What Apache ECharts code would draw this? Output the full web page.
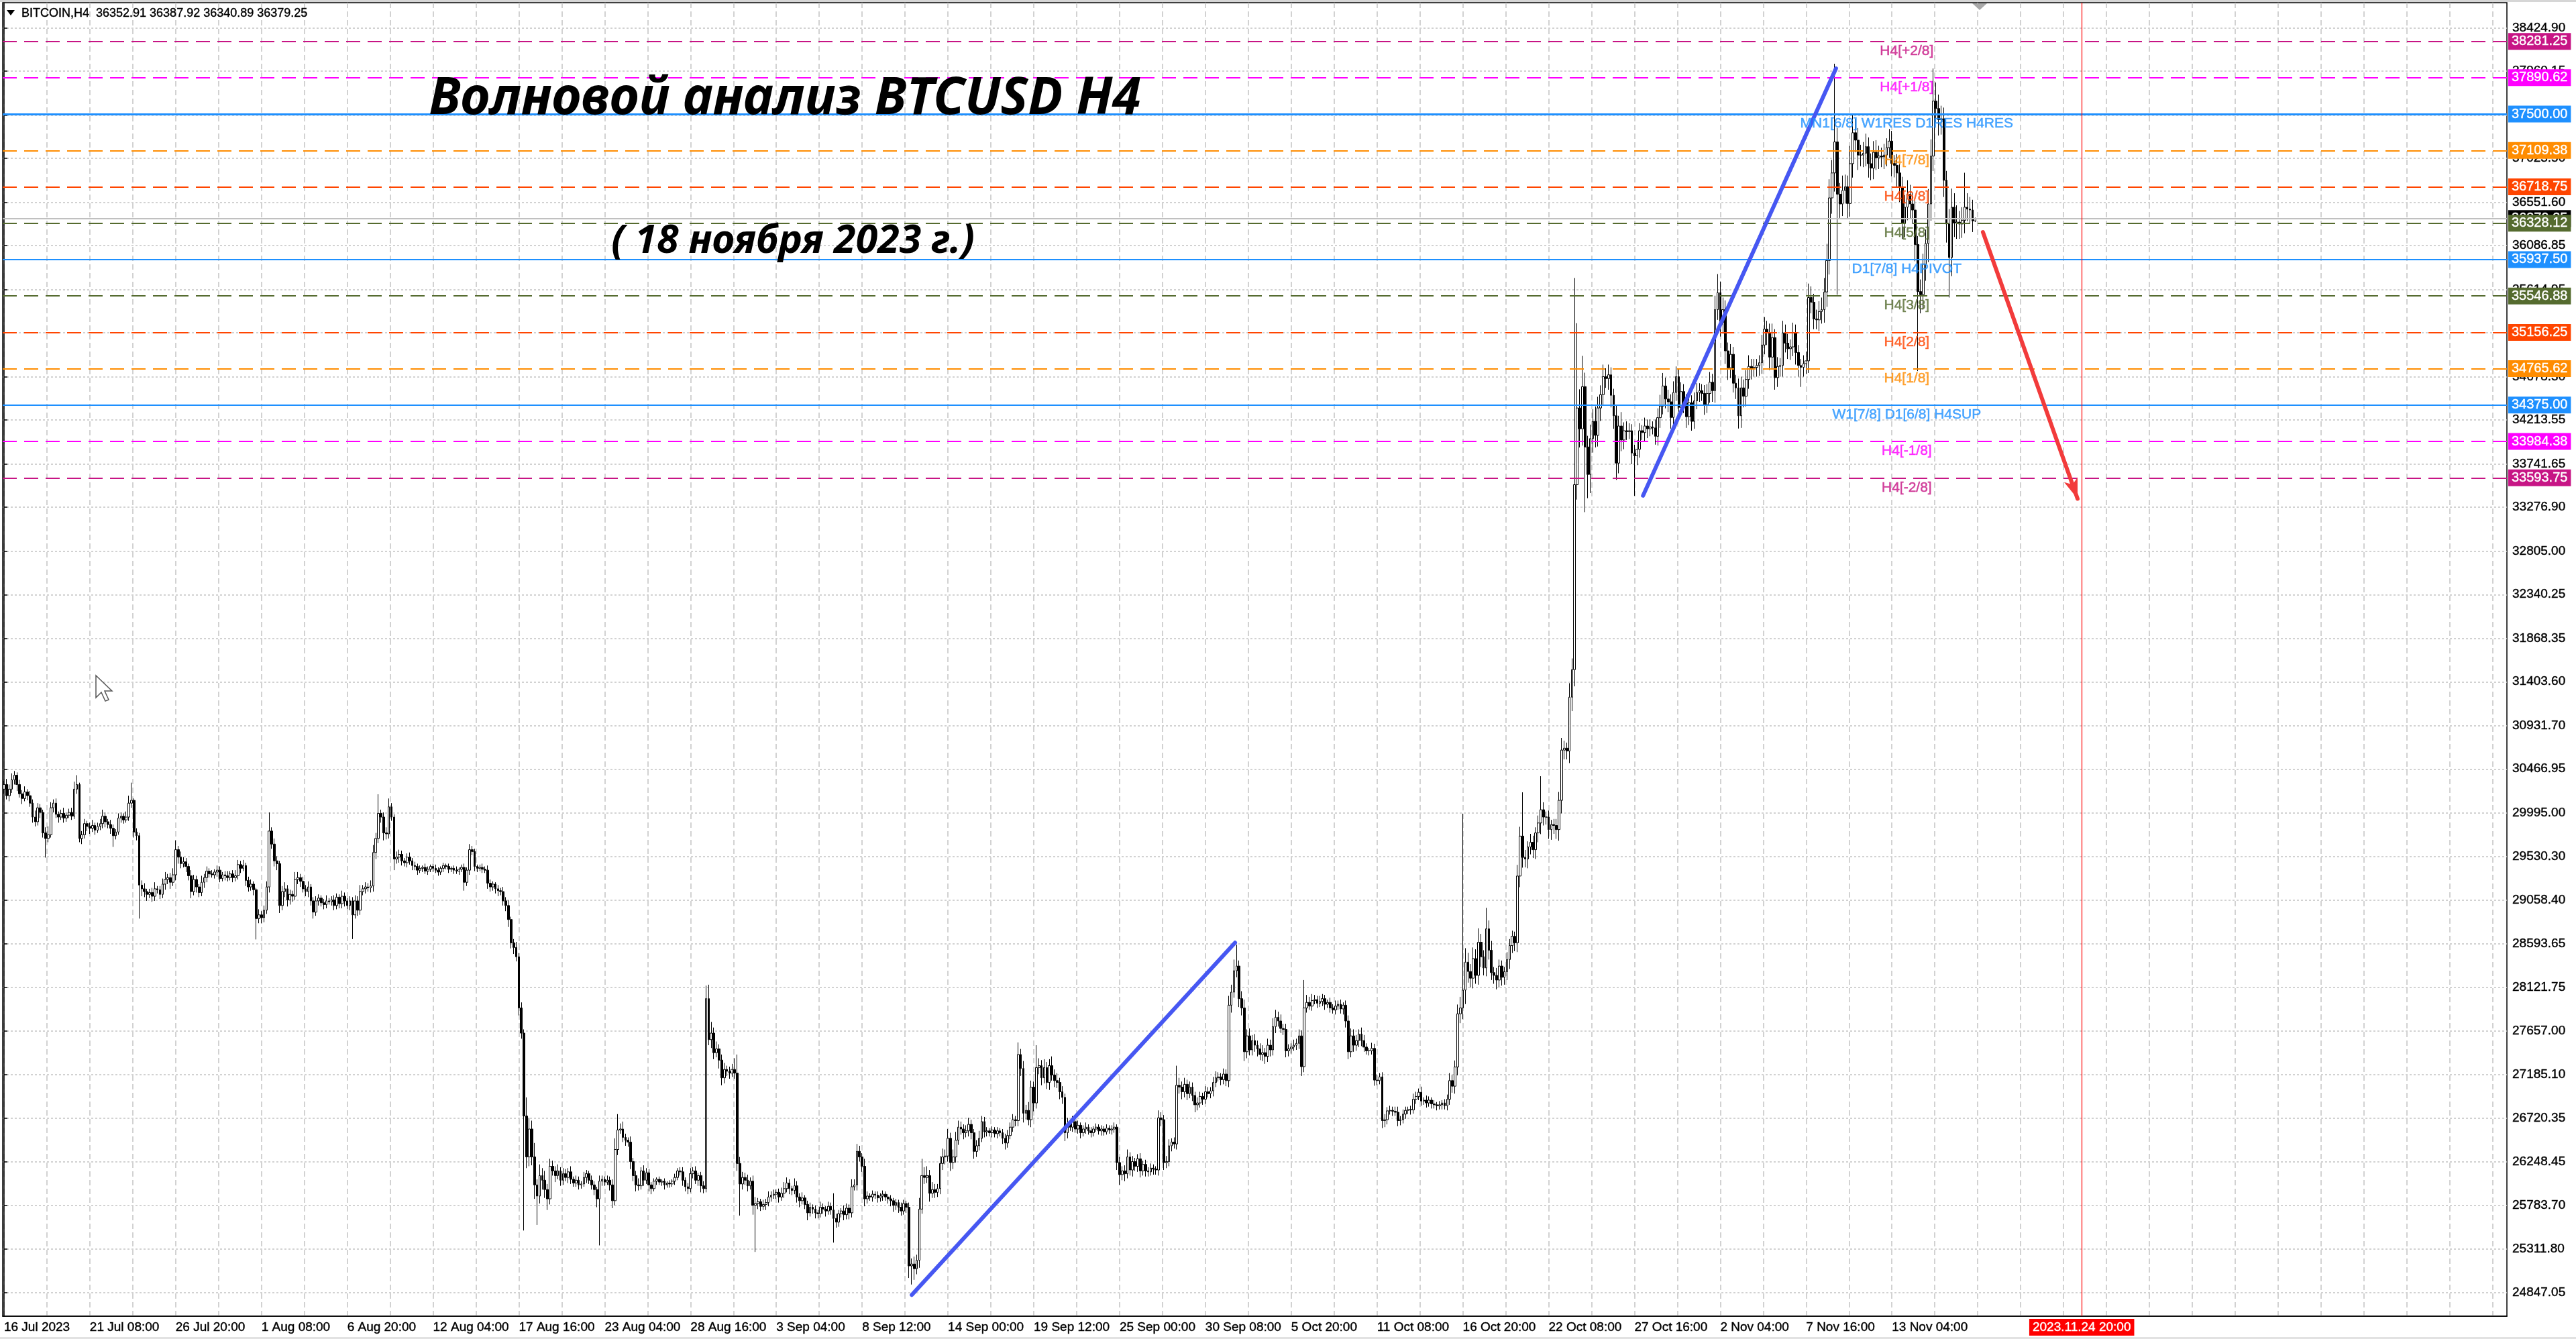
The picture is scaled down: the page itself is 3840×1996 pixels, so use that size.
<!DOCTYPE html>
<html>
<head>
<meta charset="utf-8">
<title>Волновой анализ BTCUSD H4</title>
<script src="https://cdn.jsdelivr.net/npm/echarts@6/dist/echarts.min.js"></script>
<style>
    html, body { margin: 0; padding: 0; background: #fff; }
    #chart { width: 3840px; height: 1996px; }
</style>
</head>
<body>
<div id="chart"></div>
<script>
// H4 closes, 16 Jul 2023 -> 18 Nov 2023 (open of each bar = previous close)
var firstOpen = 30250;
var closes = [
    30300, 30180, 30250, 30350, 30400, 30300, 30200, 30150, 30220, 30180, // 0
    30100, 29950, 29900, 30050, 30000, 29780, 29720, 29760, 30050, 30100,
    29980, 29950, 29990, 29940, 29970, 30000, 29960, 30250, 30300, 29720,
    29760, 29880, 29850, 29830, 29860, 29810, 29850, 29880, 29960, 29900,
    29870, 29830, 29750, 29790, 29940, 29960, 29920, 29950, 30100, 30130,
    29790, 29750, 29220, 29180, 29150, 29120, 29140, 29100, 29180, 29170, // 50
    29120, 29230, 29280, 29300, 29250, 29330, 29600, 29520, 29450, 29470,
    29420, 29320, 29150, 29280, 29200, 29140, 29250, 29300, 29370, 29340,
    29330, 29360, 29380, 29290, 29330, 29320, 29300, 29340, 29300, 29320,
    29440, 29400, 29430, 29270, 29200, 29230, 29170, 28860, 28900, 28870,
    28950, 29200, 29800, 29660, 29480, 29450, 29000, 29150, 29180, 29060, // 100
    29120, 29100, 29280, 29300, 29260, 29180, 29150, 29200, 29050, 28930,
    29050, 29080, 29030, 29010, 29050, 29040, 29060, 29000, 29090, 29020,
    29100, 29050, 29000, 29050, 28900, 29050, 28950, 29150, 29180, 29200,
    29190, 29210, 29570, 29720, 29990, 29950, 29780, 29770, 30060, 29950,
    29500, 29520, 29550, 29480, 29460, 29520, 29480, 29430, 29420, 29380, // 150
    29400, 29410, 29370, 29390, 29420, 29400, 29380, 29360, 29400, 29430,
    29420, 29390, 29400, 29380, 29370, 29390, 29410, 29250, 29380, 29600,
    29580, 29420, 29400, 29410, 29390, 29380, 29240, 29200, 29230, 29180,
    29160, 29150, 29050, 29000, 28850, 28600, 28550, 28450, 27900, 27630,
    26740, 26300, 26600, 26300, 26000, 25880, 26100, 26050, 25950, 25850, // 200
    26200, 26150, 26100, 26150, 26050, 26120, 26080, 26140, 26060, 26020,
    26050, 26000, 26010, 26080, 26120, 26050, 26000, 25950, 25850, 26040,
    26060, 26030, 26050, 26000, 25830, 26380, 26590, 26600, 26510, 26480,
    26460, 26250, 26100, 26000, 25990, 26150, 26050, 26130, 26000, 25960,
    26040, 26060, 26030, 26040, 26000, 26020, 26010, 26040, 26080, 26150, // 250
    26140, 26050, 25980, 25960, 26120, 26150, 26050, 26100, 25990, 25960,
    28000, 27560, 27630, 27420, 27460, 27340, 27150, 27240, 27220, 27200,
    27240, 27200, 26230, 26010, 26080, 26050, 25990, 26040, 25780, 25800,
    25820, 25770, 25790, 25810, 25870, 25890, 25900, 25920, 25870, 25910,
    25960, 26020, 25960, 25940, 25990, 25870, 25830, 25860, 25790, 25700, // 300
    25760, 25740, 25700, 25690, 25760, 25740, 25720, 25770, 25730, 25640,
    25600, 25690, 25720, 25680, 25750, 25700, 25980, 26000, 26360, 26300,
    26200, 25850, 25880, 25870, 25900, 25890, 25860, 25880, 25900, 25870,
    25850, 25830, 25780, 25810, 25760, 25720, 25800, 25760, 25130, 25150,
    25100, 25190, 25740, 26100, 26080, 26100, 25910, 25950, 25920, 25960, // 350
    26230, 26300, 26310, 26500, 26240, 26300, 26480, 26620, 26600, 26560,
    26580, 26650, 26560, 26360, 26420, 26500, 26680, 26570, 26580, 26560,
    26590, 26550, 26580, 26560, 26500, 26450, 26530, 26620, 26700, 26690,
    27400, 27250, 26770, 26800, 26700, 27050, 26880, 27260, 27280, 27150,
    27260, 27100, 27280, 27180, 27120, 27100, 27000, 26940, 26560, 26650, // 400
    26620, 26680, 26600, 26640, 26560, 26600, 26620, 26580, 26560, 26600,
    26620, 26580, 26600, 26570, 26610, 26590, 26600, 26620, 26240, 26110,
    26150, 26120, 26300, 26160, 26250, 26200, 26280, 26150, 26220, 26150,
    26140, 26180, 26170, 26160, 26720, 26700, 26240, 26250, 26420, 26460,
    26440, 27070, 27050, 27000, 27080, 26980, 27050, 26960, 26860, 26880, // 450
    26950, 26920, 27000, 26980, 27010, 27100, 27150, 27160, 27130, 27190,
    27120, 27930, 28070, 28300, 28350, 28000, 27900, 27430, 27600, 27450,
    27550, 27500, 27460, 27400, 27420, 27380, 27500, 27450, 27700, 27800,
    27760, 27680, 27670, 27440, 27460, 27480, 27500, 27520, 27600, 27270,
    27900, 27960, 27920, 27980, 27990, 27950, 27970, 28000, 27940, 27960, // 500
    27900, 27880, 27920, 27940, 27890, 27930, 27760, 27430, 27600, 27500,
    27550, 27620, 27550, 27480, 27440, 27440, 27466, 27125, 27120, 27160,
    26690, 26700, 26795, 26800, 26790, 26780, 26690, 26700, 26760, 26800,
    26810, 26805, 26920, 26950, 26995, 26900, 26910, 26880, 26910, 26870,
    26860, 26850, 26860, 26880, 26850, 26920, 27120, 27060, 27266, 27837, // 550
    27900, 28092, 28392, 28292, 28220, 28430, 28250, 28606, 28450, 28330,
    28750, 28520, 28280, 28250, 28200, 28350, 28230, 28290, 28420, 28570,
    28670, 28600, 29317, 29746, 29517, 29500, 29630, 29680, 29600, 29780,
    29887, 30029, 29950, 29950, 29816, 29870, 29860, 29816, 30130, 30670,
    30690, 30660, 31238, 31534, 33520, 34344, 34120, 34573, 33925, 33630, // 600
    34015, 34200, 34050, 34344, 34487, 34680, 34660, 34700, 34480, 34260,
    33752, 34150, 34000, 34100, 34090, 34100, 33860, 33830, 33900, 34100,
    34080, 34150, 34120, 34140, 34130, 34040, 34240, 34365, 34580, 34440,
    34410, 34242, 34510, 34680, 34350, 34520, 34400, 34250, 34400, 34200,
    34420, 34510, 34530, 34500, 34380, 34500, 34620, 34530, 35400, 35582, // 650
    35261, 35400, 34957, 34775, 34920, 34610, 34560, 34260, 34560, 34470,
    34650, 34790, 34770, 34780, 34800, 34830, 35020, 35190, 35150, 34890,
    35100, 34670, 34790, 34800, 35150, 35040, 34980, 35000, 35150, 34940,
    34800, 34780, 34820, 34850, 35530, 35480, 35300, 35290, 35380, 35400,
    35590, 35927, 36600, 36868, 37201, 36640, 36535, 36680, 36720, 36540, // 700
    36968, 37300, 37220, 37060, 37060, 37080, 37150, 36968, 36920, 37090,
    37030, 37050, 37040, 37060, 37140, 37210, 36970, 36950, 36868, 36716,
    36330, 36500, 36640, 36535, 36470, 36100, 35594, 35560, 35890, 36110,
    36535, 37049, 37640, 37560, 37440, 37450, 36790, 36320, 35960, 36500,
    36330, 36340, 36320, 36360, 36500, 36480, 36470, 36352.91, 36379.25  // 750
];
// upper shadow above the body, lower shadow below the body
var wickUp = [
    40, 60, 50, 70, 45, 30, 50, 40, 60, 30,
    50, 40, 70, 50, 40, 30, 60, 90, 60, 40,
    50, 30, 40, 60, 30, 40, 50, 80, 100, 20,
    40, 50, 30, 40, 60, 30, 40, 50, 70, 40,
    30, 50, 40, 30, 50, 40, 30, 60, 80, 190,
    20, 40, 30, 50, 60, 30, 40, 50, 70, 30,
    40, 60, 80, 40, 50, 70, 100, 40, 60, 50,
    40, 30, 60, 50, 40, 30, 70, 40, 50, 30,
    40, 30, 50, 40, 30, 40, 50, 30, 40, 60,
    50, 40, 60, 30, 40, 50, 30, 20, 60, 40,
    50, 60, 200, 40, 60, 50, 30, 60, 70, 40,
    50, 40, 80, 60, 40, 50, 40, 60, 30, 40,
    50, 40, 30, 40, 60, 30, 40, 50, 40, 30,
    60, 40, 30, 50, 40, 60, 50, 70, 40, 50,
    40, 60, 80, 60, 205, 40, 50, 60, 90, 40,
    30, 60, 50, 40, 30, 40, 50, 30, 40, 30,
    30, 20, 40, 30, 20, 30, 40, 30, 20, 30,
    20, 30, 20, 30, 40, 20, 30, 40, 30, 60,
    40, 30, 20, 30, 40, 30, 50, 40, 30, 20,
    40, 30, 50, 40, 60, 30, 40, 60, 40, 60,
    40, 200, 120, 90, 150, 60, 120, 80, 100, 60,
    80, 60, 50, 70, 40, 60, 50, 40, 60, 30,
    50, 40, 30, 60, 40, 30, 50, 40, 30, 60,
    40, 30, 50, 40, 60, 120, 170, 60, 80, 40,
    30, 60, 40, 50, 70, 40, 60, 50, 40, 30,
    30, 20, 30, 20, 30, 20, 30, 20, 40, 30,
    40, 50, 30, 40, 60, 40, 50, 30, 40, 50,
    140, 150, 120, 60, 80, 50, 60, 70, 40, 50,
    60, 120, 200, 70, 60, 50, 60, 40, 60, 70,
    40, 30, 50, 40, 60, 40, 50, 30, 40, 60,
    70, 60, 40, 30, 80, 50, 40, 60, 30, 40,
    50, 30, 40, 30, 60, 40, 30, 50, 40, 180,
    50, 40, 30, 60, 50, 40, 80, 60, 80, 60,
    40, 80, 50, 30, 40, 30, 40, 30, 40, 30,
    30, 40, 30, 40, 30, 50, 40, 30, 50, 60,
    80, 60, 120, 180, 90, 100, 60, 80, 60, 50,
    80, 90, 70, 100, 60, 80, 90, 70, 60, 50,
    60, 70, 50, 40, 60, 80, 60, 50, 40, 30,
    40, 30, 40, 30, 40, 50, 60, 50, 60, 40,
    130, 60, 80, 60, 90, 70, 60, 240, 80, 60,
    90, 60, 70, 100, 60, 80, 50, 60, 40, 70,
    50, 60, 40, 50, 30, 40, 50, 30, 40, 30,
    40, 30, 40, 30, 40, 30, 40, 50, 30, 60,
    50, 60, 80, 50, 60, 40, 50, 60, 40, 50,
    40, 50, 40, 30, 80, 60, 50, 60, 70, 40,
    50, 210, 80, 60, 70, 50, 60, 50, 40, 60,
    50, 40, 60, 50, 40, 60, 70, 50, 40, 60,
    50, 100, 80, 120, 230, 60, 80, 90, 70, 80,
    60, 70, 50, 60, 80, 50, 70, 60, 90, 80,
    60, 70, 50, 60, 50, 40, 60, 50, 70, 60,
    300, 80, 60, 70, 50, 40, 60, 50, 40, 30,
    50, 40, 60, 40, 50, 30, 50, 60, 80, 70,
    60, 50, 70, 60, 40, 30, 60, 50, 60, 40,
    50, 60, 40, 50, 40, 50, 60, 40, 50, 40,
    30, 40, 60, 50, 40, 60, 30, 50, 40, 30,
    40, 30, 40, 30, 40, 50, 80, 60, 70, 100,
    120, 1895, 150, 100, 80, 120, 100, 150, 90, 70,
    225, 90, 100, 60, 80, 70, 60, 50, 80, 70,
    60, 50, 120, 100, 470, 80, 60, 90, 70, 60,
    80, 360, 80, 60, 70, 50, 60, 70, 90, 130,
    80, 60, 150, 120, 2220, 910, 200, 330, 150, 120,
    150, 130, 160, 120, 100, 130, 90, 110, 80, 70,
    120, 110, 150, 90, 100, 80, 70, 90, 100, 80,
    60, 90, 70, 80, 60, 90, 100, 120, 140, 90,
    100, 80, 120, 110, 90, 100, 80, 90, 110, 80,
    90, 100, 80, 70, 90, 100, 110, 90, 150, 200,
    120, 130, 100, 90, 110, 80, 90, 100, 120, 90,
    100, 120, 80, 90, 70, 80, 110, 130, 90, 100,
    150, 90, 100, 80, 130, 90, 100, 80, 110, 90,
    80, 70, 90, 100, 150, 120, 90, 100, 110, 130,
    150, 180, 200, 140, 840, 150, 120, 160, 130, 120,
    190, 200, 150, 130, 110, 120, 140, 100, 110, 120,
    130, 110, 90, 120, 100, 130, 110, 90, 120, 100,
    110, 130, 150, 100, 120, 100, 90, 130, 110, 150,
    160, 180, 350, 200, 150, 140, 120, 100, 160, 200,
    150, 180, 120, 140, 370, 150, 130, 110, 8.67
];
var wickDown = [
    50, 40, 60, 40, 50, 70, 40, 60, 30, 50,
    40, 60, 50, 40, 60, 50, 205, 40, 30, 50,
    40, 60, 30, 50, 40, 30, 40, 30, 50, 40,
    60, 40, 50, 60, 40, 50, 30, 40, 50, 60,
    40, 60, 120, 40, 30, 50, 40, 30, 40, 50,
    60, 50, 360, 80, 60, 70, 40, 60, 50, 40,
    50, 40, 60, 50, 70, 40, 60, 70, 50, 40,
    60, 50, 70, 40, 60, 50, 40, 60, 50, 40,
    30, 40, 50, 40, 30, 50, 40, 30, 50, 40,
    40, 50, 30, 60, 50, 40, 60, 224, 50, 60,
    50, 40, 60, 50, 60, 70, 80, 50, 60, 70,
    50, 60, 40, 50, 60, 40, 50, 60, 50, 70,
    40, 50, 40, 50, 40, 30, 40, 50, 40, 50,
    50, 60, 40, 50, 260, 40, 60, 50, 40, 50,
    40, 50, 60, 70, 50, 60, 80, 60, 50, 40,
    120, 50, 60, 50, 40, 50, 40, 50, 40, 50,
    30, 40, 30, 40, 30, 40, 30, 40, 30, 40,
    30, 40, 30, 40, 30, 40, 30, 90, 40, 50,
    40, 50, 40, 30, 40, 30, 60, 50, 40, 50,
    60, 40, 50, 60, 80, 60, 70, 50, 80, 60,
    1230, 120, 100, 90, 150, 310, 80, 100, 90, 120,
    60, 50, 70, 40, 60, 50, 40, 60, 50, 40,
    40, 50, 40, 30, 60, 40, 50, 60, 90, 500,
    50, 40, 30, 60, 80, 50, 60, 40, 50, 60,
    50, 80, 60, 70, 50, 40, 60, 40, 70, 60,
    30, 40, 30, 40, 50, 30, 40, 30, 40, 30,
    40, 60, 50, 60, 40, 50, 40, 60, 70, 50,
    40, 60, 90, 70, 50, 90, 80, 60, 50, 60,
    40, 60, 80, 340, 60, 50, 60, 40, 100, 500,
    60, 50, 40, 60, 40, 50, 40, 50, 60, 40,
    50, 40, 60, 50, 40, 60, 70, 40, 50, 80,
    40, 50, 60, 50, 40, 50, 60, 40, 50, 260,
    60, 50, 40, 60, 50, 70, 50, 40, 60, 50,
    60, 80, 50, 40, 50, 40, 50, 40, 50, 40,
    50, 60, 70, 50, 60, 50, 40, 60, 130, 200,
    120, 60, 80, 50, 70, 60, 90, 50, 60, 50,
    60, 70, 80, 60, 90, 70, 60, 50, 60, 70,
    50, 60, 70, 80, 60, 50, 40, 60, 50, 40,
    50, 40, 50, 40, 60, 70, 50, 40, 50, 60,
    60, 80, 100, 70, 60, 80, 90, 60, 70, 80,
    60, 70, 80, 60, 70, 60, 80, 70, 90, 60,
    40, 50, 40, 50, 60, 40, 50, 40, 50, 40,
    30, 40, 50, 40, 30, 40, 50, 40, 80, 110,
    60, 80, 50, 60, 70, 50, 60, 70, 50, 60,
    50, 40, 60, 50, 60, 70, 80, 60, 50, 60,
    50, 60, 70, 80, 60, 70, 50, 60, 80, 60,
    50, 60, 50, 40, 50, 60, 50, 40, 60, 50,
    60, 70, 80, 60, 70, 90, 80, 100, 70, 60,
    60, 70, 80, 60, 70, 80, 60, 70, 60, 70,
    60, 50, 60, 70, 60, 50, 40, 50, 60, 100,
    60, 50, 40, 50, 40, 50, 40, 50, 60, 40,
    50, 40, 50, 40, 50, 60, 70, 80, 60, 70,
    60, 70, 60, 50, 40, 50, 40, 60, 50, 40,
    80, 70, 50, 40, 50, 40, 60, 50, 40, 50,
    40, 50, 40, 50, 40, 50, 40, 50, 40, 50,
    40, 50, 40, 50, 40, 50, 60, 70, 80, 90,
    100, 120, 150, 120, 100, 110, 90, 100, 110, 80,
    90, 100, 80, 90, 100, 80, 90, 80, 90, 100,
    80, 90, 100, 120, 110, 90, 100, 80, 90, 100,
    100, 120, 90, 80, 100, 110, 90, 100, 120, 140,
    100, 90, 130, 150, 180, 160, 200, 180, 700, 255,
    200, 150, 130, 120, 140, 110, 100, 120, 130, 140,
    180, 110, 120, 100, 90, 80, 120, 430, 100, 90,
    80, 90, 100, 80, 70, 90, 100, 110, 90, 100,
    110, 120, 100, 90, 130, 100, 110, 120, 90, 100,
    80, 90, 100, 80, 110, 90, 100, 120, 130, 110,
    150, 120, 140, 130, 110, 100, 120, 137, 130, 120,
    110, 100, 120, 90, 100, 110, 120, 100, 130, 140,
    120, 130, 100, 110, 120, 100, 110, 120, 100, 130,
    120, 210, 100, 110, 130, 120, 110, 100, 120, 130,
    140, 160, 150, 170, 200, 1080, 150, 130, 140, 160,
    140, 150, 130, 160, 120, 130, 140, 150, 130, 120,
    130, 120, 110, 130, 120, 110, 140, 130, 150, 160,
    170, 150, 140, 160, 150, 180, 854, 200, 160, 180,
    200, 180, 160, 150, 170, 160, 180, 200, 430, 200,
    150, 170, 160, 150, 140, 130, 150, 120, 12.02
];

// time axis labels, one every 33 H4 bars
var timeLabels = [
    '16 Jul 2023', '21 Jul 08:00', '26 Jul 20:00', '1 Aug 08:00', '6 Aug 20:00',
    '12 Aug 04:00', '17 Aug 16:00', '23 Aug 04:00', '28 Aug 16:00', '3 Sep 04:00',
    '8 Sep 12:00', '14 Sep 00:00', '19 Sep 12:00', '25 Sep 00:00', '30 Sep 08:00',
    '5 Oct 20:00', '11 Oct 08:00', '16 Oct 20:00', '22 Oct 08:00', '27 Oct 16:00',
    '2 Nov 04:00', '7 Nov 16:00', '13 Nov 04:00'
];
var futureLabel = '2023.11.24 20:00';
var futureIndex = 799;

// price scale ticks
var yTicks = [
    38424.90, 37960.15, 37488.25, 37023.50, 36551.60, 36086.85, 35614.95, 35150.20,
    34678.30, 34213.55, 33741.65, 33276.90, 32805.00, 32340.25, 31868.35, 31403.60,
    30931.70, 30466.95, 29995.00, 29530.30, 29058.40, 28593.65, 28121.75, 27657.00,
    27185.10, 26720.35, 26248.45, 25783.70, 25311.80, 24847.05
];

// Murrey math levels
var levelValues = [38281.25, 37890.62, 37500.00, 37109.38, 36718.75, 36328.12, 35937.50,
    35546.88, 35156.25, 34765.62, 34375.00, 33984.38, 33593.75];
var levelNames = ['H4[+2/8]', 'H4[+1/8]', 'MN1[6/8] W1RES D1RES H4RES', 'H4[7/8]', 'H4[6/8]',
    'H4[5/8]', 'D1[7/8] H4PIVOT', 'H4[3/8]', 'H4[2/8]', 'H4[1/8]', 'W1[7/8] D1[6/8] H4SUP',
    'H4[-1/8]', 'H4[-2/8]'];
var levelColors = ['#C71585', '#FF00FF', '#1E90FF', '#FF8C00', '#FF4500', '#556B2F', '#1E90FF',
    '#556B2F', '#FF4500', '#FF8C00', '#1E90FF', '#FF00FF', '#C71585'];
var levelSolid = [false, false, true, false, false, false, true, false, false, false, true, false, false];
var levelWidth = [2, 2, 3, 2, 2, 2, 2, 2, 2, 2, 2, 2, 2];

// hand drawn waves [bar, price]
var wave1 = [[349.1, 24818], [473.4, 28601]];
var wave2 = [[630.3, 33402], [704.5, 37990]];
var arrow = [[761.0, 36232], [797.4, 33369]];

var SLOTS = 963;
var LABEL_STEP = 33;
var LEVEL_TEXT_X = 731.7;
var FONT = '"Liberation Sans", Arial, sans-serif';

var chart = echarts.init(document.getElementById('chart'));

var categories = [];
for (var i = 0; i < SLOTS; i++) {
    categories.push(String(i));
}

var candles = [];
for (var i = 0; i < closes.length; i++) {
    var o = i === 0 ? firstOpen : closes[i - 1];
    var c = closes[i];
    candles.push([o, c, Math.min(o, c) - wickDown[i], Math.max(o, c) + wickUp[i]]);
}
var last = candles[candles.length - 1];

var gridX = [];
for (var g = 0; g < SLOTS; g += LABEL_STEP / 2) {
    gridX.push(g);
}

function isLabelSlot(idx) {
    return idx % LABEL_STEP === 0 && idx / LABEL_STEP < timeLabels.length;
}

// price box on the right scale
function priceBox(text, bg) {
    return {
        show: true, position: 'end', distance: 2, formatter: text,
        backgroundColor: bg, color: '#fff', padding: [3, 5, 2, 5], fontSize: 20, fontFamily: FONT,
        textBorderColor: '#fff', textBorderWidth: 0.4
    };
}

var markLines = [{
    yAxis: last[1],
    lineStyle: { color: '#c0c0c0', width: 2, type: 'solid' },
    label: priceBox(last[1].toFixed(2), '#000')
}];
levelValues.forEach(function(v, k) {
    markLines.push({
        yAxis: v,
        lineStyle: { color: levelColors[k], width: levelWidth[k], type: levelSolid[k] ? 'solid' : [21, 11] },
        label: priceBox(v.toFixed(2), levelColors[k])
    });
});
markLines.push({
    xAxis: futureIndex,
    lineStyle: { color: '#ff0000', width: 1.2, type: 'solid' },
    label: {
        show: true, position: 'start', distance: 4, formatter: futureLabel,
        backgroundColor: '#ff0000', color: '#fff', padding: [3, 5, 3, 5], fontSize: 19, fontFamily: FONT,
        textBorderColor: '#fff', textBorderWidth: 0.4
    }
});

var levelTexts = levelValues.map(function(v, k) {
    return {
        value: [LEVEL_TEXT_X, v],
        label: { show: true, formatter: levelNames[k], color: levelColors[k], textBorderColor: levelColors[k] }
    };
});

var shadow = { shadowColor: 'rgba(0,0,0,0.45)', shadowBlur: 6, shadowOffsetX: 4, shadowOffsetY: 5 };

chart.setOption({
    animation: false,
    backgroundColor: '#fff',
    textStyle: { fontFamily: FONT },
    grid: { left: 4, right: 103, top: 4, bottom: 34, show: true, borderColor: '#000', borderWidth: 1.5, backgroundColor: '#fff' },
    xAxis: [{
        type: 'category',
        data: categories,
        boundaryGap: true,
        axisLine: { lineStyle: { color: '#000', width: 1.5 } },
        axisTick: { alignWithLabel: true, interval: isLabelSlot, length: 5, lineStyle: { color: '#000', width: 1.5 } },
        axisLabel: {
            interval: isLabelSlot,
            formatter: function(value, idx) { return timeLabels[idx / LABEL_STEP]; },
            align: 'left', margin: 7, fontSize: 19, color: '#000', fontFamily: FONT,
            textBorderColor: '#000', textBorderWidth: 0.4
        },
        splitLine: { show: false }
    }, {
        type: 'value',
        min: -0.5,
        max: SLOTS - 0.5,
        position: 'top',
        axisLine: { show: false },
        axisLabel: { show: false },
        axisTick: { show: false, customValues: gridX },
        splitLine: { show: true, lineStyle: { color: '#c4c4c4', width: 1.5, type: [8, 5] } }
    }],
    yAxis: {
        type: 'value',
        position: 'right',
        min: 24589.8,
        max: 38696.6,
        axisLine: { show: true, lineStyle: { color: '#000', width: 1.5 } },
        axisTick: { show: true, length: 5, customValues: yTicks, lineStyle: { color: '#000', width: 1.5 } },
        axisLabel: {
            customValues: yTicks, margin: 8, fontSize: 19, color: '#000', fontFamily: FONT,
            textBorderColor: '#000', textBorderWidth: 0.4,
            formatter: function(v) { return v.toFixed(2); }
        },
        splitLine: { show: true, lineStyle: { color: '#c4c4c4', width: 1.5, type: [3, 3] } }
    },
    series: [{
        type: 'candlestick',
        xAxisIndex: 0,
        data: candles,
        large: false,
        barWidth: 3.2,
        z: 3,
        itemStyle: { color: '#fff', color0: '#000', borderColor: '#000', borderColor0: '#000', borderWidth: 1 },
        markLine: { silent: true, symbol: ['none', 'none'], animation: false, data: markLines }
    }, {
        type: 'scatter',
        xAxisIndex: 1,
        data: levelTexts,
        symbol: 'circle',
        symbolSize: 2,
        itemStyle: { color: 'rgba(255,255,255,0)' },
        silent: true,
        clip: false,
        z: 6,
        labelLayout: { hideOverlap: false },
        label: { show: true, position: 'bottom', distance: 3, fontSize: 21, fontFamily: FONT, textBorderWidth: 0.5 }
    }, {
        type: 'line',
        xAxisIndex: 1,
        data: wave1,
        symbol: 'none',
        z: 5,
        lineStyle: { color: '#4657F2', width: 6, cap: 'round' }
    }, {
        type: 'line',
        xAxisIndex: 1,
        data: wave2,
        symbol: 'none',
        z: 5,
        lineStyle: { color: '#4657F2', width: 6, cap: 'round' }
    }, {
        type: 'line',
        xAxisIndex: 1,
        data: [],
        z: 5,
        markLine: {
            silent: true,
            symbol: ['none', 'arrow'],
            symbolSize: [16, 30],
            animation: false,
            lineStyle: { color: '#F23B3B', width: 6, type: 'solid', cap: 'round' },
            label: { show: false },
            data: [[{ coord: arrow[0] }, { coord: arrow[1] }]]
        }
    }],
    graphic: [
        { type: 'rect', shape: { x: 0, y: 0, width: 3840, height: 3 }, style: { fill: '#d6d6d6' }, z: 10 },
        { type: 'rect', shape: { x: 0, y: 1993, width: 3840, height: 3 }, style: { fill: '#e2e2e2' }, z: 10 },
        { type: 'polygon', shape: { points: [[2940, 5], [2962, 5], [2951, 15]] }, style: { fill: '#a8a8a8' }, z: 10 },
        { type: 'polygon', shape: { points: [[10, 15], [22, 15], [16, 23]] }, style: { fill: '#000' }, z: 10 },
        {
            type: 'text', x: 32, y: 20, z: 10,
            style: {
                text: 'BITCOIN,H4  ' + last[0].toFixed(2) + ' ' + last[3].toFixed(2) + ' ' +
                    last[2].toFixed(2) + ' ' + last[1].toFixed(2),
                font: '18px ' + FONT, fill: '#000', stroke: '#000', lineWidth: 0.4, verticalAlign: 'middle'
            }
        },
        {
            type: 'text', x: 1170, y: 148, z: 10,
            style: echarts.util.extend({
                text: 'Волновой анализ BTCUSD H4',
                font: 'italic bold 77px "Noto Sans", sans-serif', fill: '#000',
                align: 'center', verticalAlign: 'middle'
            }, shadow)
        },
        {
            type: 'text', x: 1182, y: 360, z: 10,
            style: echarts.util.extend({
                text: '( 18 ноября 2023 г.)',
                font: 'italic bold 59px "Noto Sans", sans-serif', fill: '#000',
                align: 'center', verticalAlign: 'middle'
            }, shadow)
        },
        {
            type: 'polygon', z: 10,
            shape: { points: [[143, 1007], [143, 1040], [151, 1032], [157, 1045], [162, 1043], [156, 1030], [167, 1030]] },
            style: { fill: '#fff', stroke: '#555', lineWidth: 1.5 }
        }
    ]
});
</script>
</body>
</html>
